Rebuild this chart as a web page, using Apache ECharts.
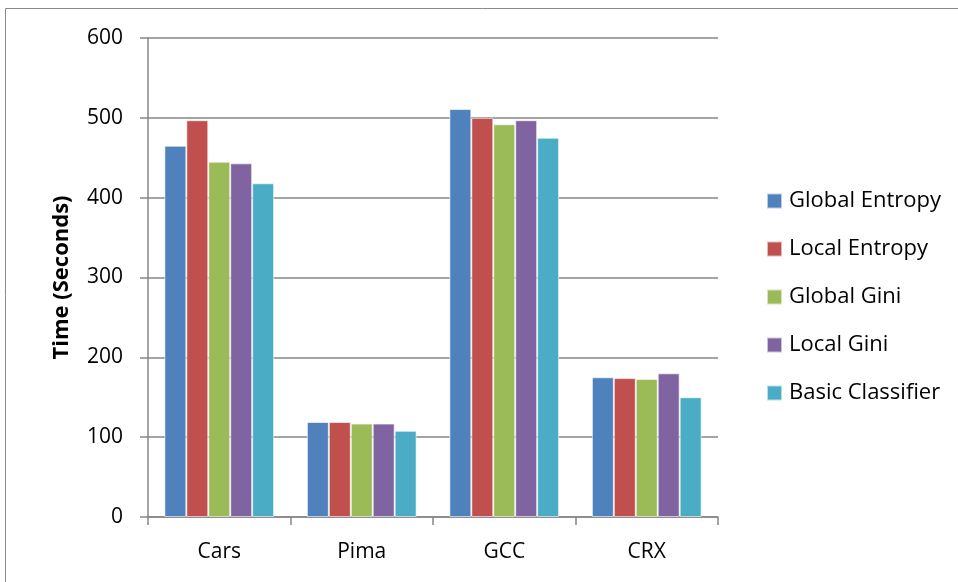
<!DOCTYPE html>
<html>
<head>
<meta charset="utf-8">
<script src="https://cdn.jsdelivr.net/npm/echarts@6/dist/echarts.min.js"></script>
<style>
  html, body { margin: 0; padding: 0; background: #fff; }
  #chart { width: 958px; height: 582px; }
</style>
</head>
<body>
<div id="chart"></div>
<script>
// Dataset categories and per-method timing (seconds)
const categories = ['Cars', 'Pima', 'GCC', 'CRX'];
const globalEntropy = [465, 119, 511, 175];
const localEntropy = [497, 119, 500, 174];
const globalGini = [445, 117, 492, 173];
const localGini = [443, 117, 497, 180];
const basicClassifier = [418, 108, 475, 150];
const yTicks = [0, 100, 200, 300, 400, 500, 600];

const seriesNames = ['Global Entropy', 'Local Entropy', 'Global Gini', 'Local Gini', 'Basic Classifier'];
const seriesData = [globalEntropy, localEntropy, globalGini, localGini, basicClassifier];
const colors = ['#4f81bd', '#c0504d', '#9bbb59', '#8064a2', '#4bacc6'];

const font = '"Open Sans", "Noto Sans", sans-serif';
const chart = echarts.init(document.getElementById('chart'));

chart.setOption({
  animation: false,
  color: colors,
  graphic: [{
    type: 'rect',
    shape: { x: 5.5, y: 8.5, width: 1000, height: 1000 },
    style: { fill: 'none', stroke: '#8a8a8a', lineWidth: 1 },
    silent: true
  }],
  grid: { left: 148, right: 240, top: 38, bottom: 65, containLabel: false },
  legend: {
    orient: 'vertical',
    left: 761,
    top: 185,
    itemWidth: 15,
    itemHeight: 15,
    itemGap: 26,
    icon: 'rect',
    textStyle: { fontFamily: font, fontSize: 22, lineHeight: 22, color: '#000', padding: [0, 0, 0, 2] },
    data: seriesNames
  },
  xAxis: {
    type: 'category',
    data: categories,
    axisLine: { lineStyle: { color: '#868686', width: 1.5 } },
    axisTick: { show: true, length: 8, lineStyle: { color: '#868686', width: 1.5 } },
    axisLabel: { fontFamily: font, fontSize: 21, color: '#000', margin: 25 }
  },
  yAxis: {
    type: 'value',
    min: yTicks[0],
    max: yTicks[yTicks.length - 1],
    interval: 100,
    name: 'Time (Seconds)',
    nameLocation: 'middle',
    nameGap: 75,
    nameTextStyle: { fontFamily: font, fontSize: 22, fontWeight: 'bold', color: '#000' },
    axisLine: { show: true, lineStyle: { color: '#868686', width: 1.5 } },
    axisTick: { show: true, length: 8, lineStyle: { color: '#868686', width: 1.5 } },
    splitLine: { lineStyle: { color: '#868686', width: 1.5 } },
    axisLabel: { fontFamily: font, fontSize: 21, color: '#000', margin: 25 }
  },
  series: seriesNames.map((name, i) => ({
    name: name,
    type: 'bar',
    data: seriesData[i],
    barGap: '0%',
    barCategoryGap: '23%',
    itemStyle: { borderColor: 'rgba(255,255,255,0.6)', borderWidth: 1 }
  }))
});
</script>
</body>
</html>
